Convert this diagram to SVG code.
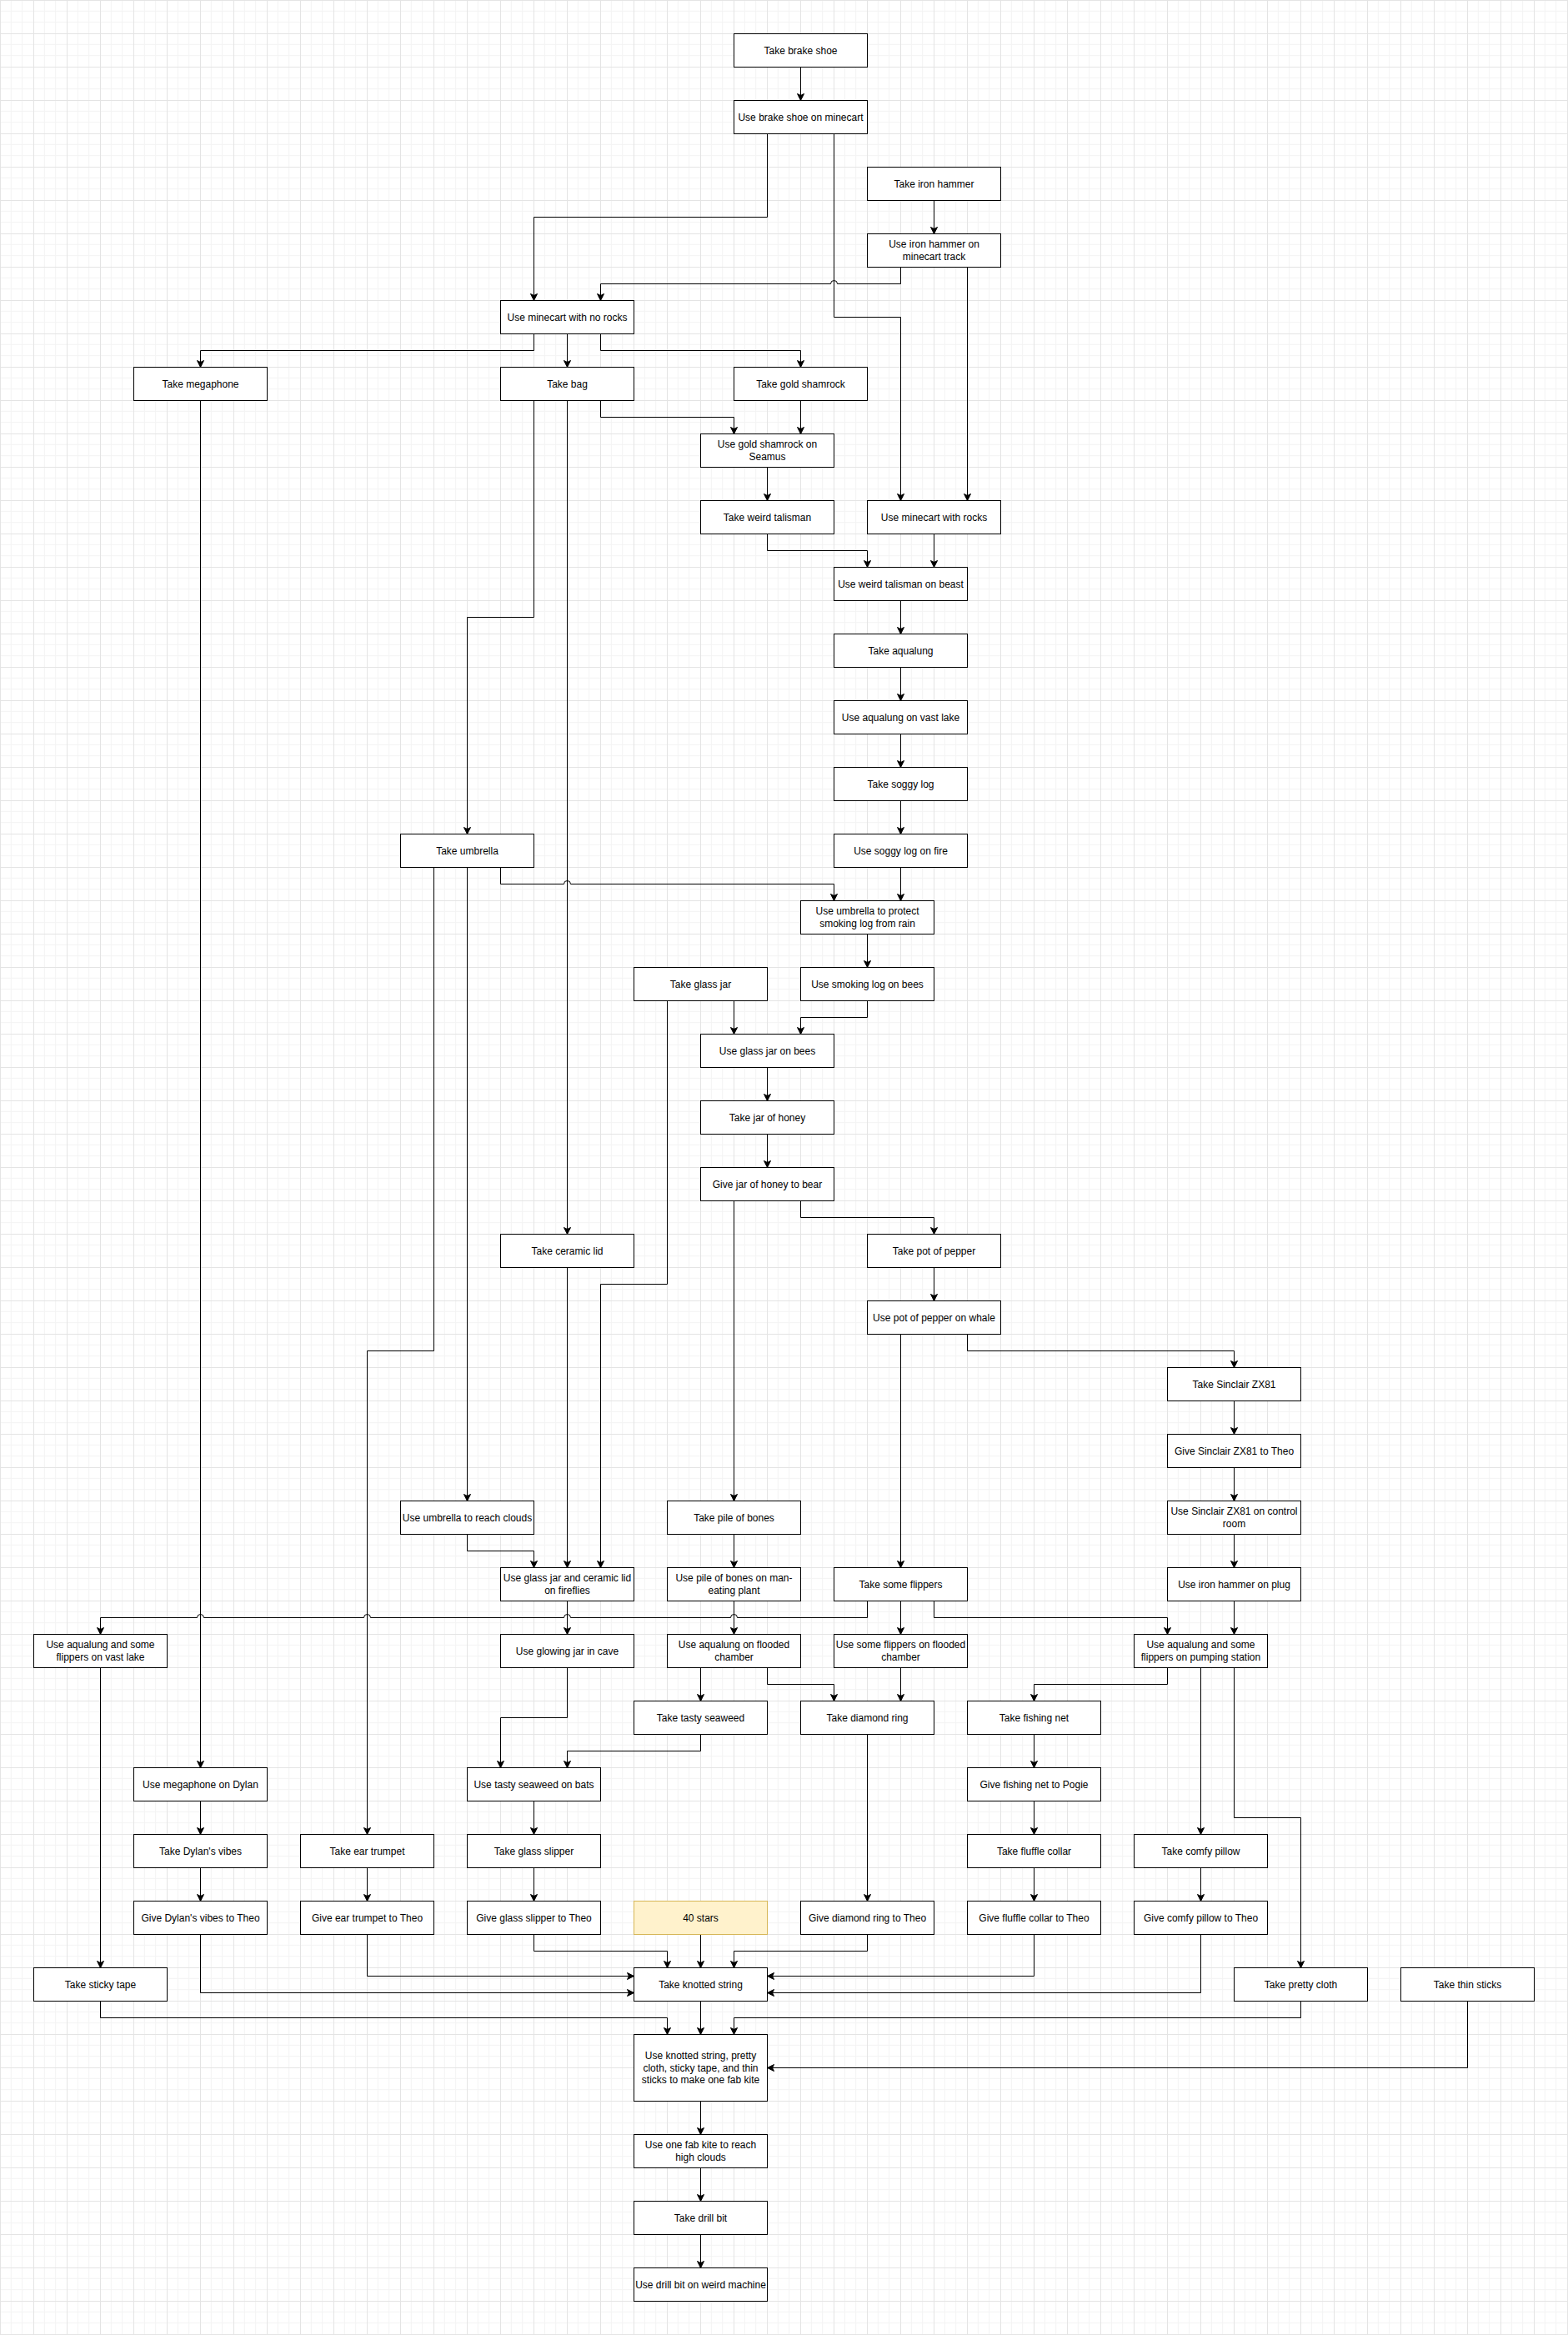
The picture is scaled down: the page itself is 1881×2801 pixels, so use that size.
<svg xmlns="http://www.w3.org/2000/svg" width="1881" height="2801" viewBox="0 0 1881 2801">
<defs>
<pattern id="grid" width="40" height="40" patternUnits="userSpaceOnUse">
<path d="M13.33 0 V40 M26.67 0 V40 M0 13.33 H40 M0 26.67 H40" fill="none" stroke="#f3f3f3" stroke-width="1"/>
<path d="M0.5 0 V40 M0 0.5 H40" fill="none" stroke="#e4e4e4" stroke-width="1"/>
</pattern>
<marker id="arr" markerUnits="userSpaceOnUse" markerWidth="12" markerHeight="12" viewBox="-10 -6 12 12" refX="0" refY="0" orient="auto">
<path d="M0,0 L-8,-4 L-6,0 L-8,4 Z" fill="#000" stroke="#000" stroke-width="1"/>
</marker>
<style>
.node rect{fill:#fff;stroke:#000;stroke-width:1}
.node text{font-family:"Liberation Sans",Arial,Helvetica,sans-serif;font-size:12px;fill:#000;text-anchor:middle}
.node.star rect{fill:#fff2cc;stroke:#d6b656}
#edges path{fill:none;stroke:#000;stroke-width:1;marker-end:url(#arr)}
</style>
</defs>
<rect x="0" y="0" width="1881" height="2801" fill="#fff"/>
<rect x="0" y="0" width="1881" height="2801" fill="url(#grid)"/>
<g transform="translate(0.5,0.5)">
<g id="edges">
<path d="M960,80 V120"/>
<path d="M920,160 V260 H640 V360"/>
<path d="M1000,160 V380 H1080 V600"/>
<path d="M1120,240 V280"/>
<path d="M1080,320 V340 H1004 A4,4 0 0 0 996,340 H720 V360"/>
<path d="M1160,320 V600"/>
<path d="M640,400 V420 H240 V440"/>
<path d="M680,400 V440"/>
<path d="M720,400 V420 H960 V440"/>
<path d="M960,480 V520"/>
<path d="M720,480 V500 H880 V520"/>
<path d="M920,560 V600"/>
<path d="M920,640 V660 H1040 V680"/>
<path d="M1120,640 V680"/>
<path d="M1080,720 V760"/>
<path d="M1080,800 V840"/>
<path d="M1080,880 V920"/>
<path d="M1080,960 V1000"/>
<path d="M640,480 V740 H560 V1000"/>
<path d="M680,480 V1480"/>
<path d="M240,480 V2120"/>
<path d="M1080,1040 V1080"/>
<path d="M600,1040 V1060 H676 A4,4 0 0 1 684,1060 H1000 V1080"/>
<path d="M1040,1120 V1160"/>
<path d="M1040,1200 V1220 H960 V1240"/>
<path d="M880,1200 V1240"/>
<path d="M800,1200 V1540 H720 V1880"/>
<path d="M920,1280 V1320"/>
<path d="M920,1360 V1400"/>
<path d="M960,1440 V1460 H1120 V1480"/>
<path d="M880,1440 V1800"/>
<path d="M1120,1520 V1560"/>
<path d="M1160,1600 V1620 H1480 V1640"/>
<path d="M1080,1600 V1880"/>
<path d="M1480,1680 V1720"/>
<path d="M1480,1760 V1800"/>
<path d="M1480,1840 V1880"/>
<path d="M1480,1920 V1960"/>
<path d="M560,1040 V1800"/>
<path d="M520,1040 V1620 H440 V2200"/>
<path d="M560,1840 V1860 H640 V1880"/>
<path d="M680,1520 V1880"/>
<path d="M680,1920 V1960"/>
<path d="M880,1840 V1880"/>
<path d="M880,1920 V1960"/>
<path d="M1040,1920 V1940 H884 A4,4 0 0 0 876,1940 H684 A4,4 0 0 0 676,1940 H444 A4,4 0 0 0 436,1940 H244 A4,4 0 0 0 236,1940 H120 V1960"/>
<path d="M1080,1920 V1960"/>
<path d="M1120,1920 V1940 H1400 V1960"/>
<path d="M840,2000 V2040"/>
<path d="M920,2000 V2020 H1000 V2040"/>
<path d="M1080,2000 V2040"/>
<path d="M1400,2000 V2020 H1240 V2040"/>
<path d="M1440,2000 V2200"/>
<path d="M1480,2000 V2180 H1560 V2360"/>
<path d="M840,2080 V2100 H680 V2120"/>
<path d="M680,2000 V2060 H600 V2120"/>
<path d="M640,2160 V2200"/>
<path d="M640,2240 V2280"/>
<path d="M240,2160 V2200"/>
<path d="M240,2240 V2280"/>
<path d="M440,2240 V2280"/>
<path d="M1240,2080 V2120"/>
<path d="M1240,2160 V2200"/>
<path d="M1240,2240 V2280"/>
<path d="M1440,2240 V2280"/>
<path d="M1040,2080 V2280"/>
<path d="M240,2320 V2390 H760"/>
<path d="M440,2320 V2370 H760"/>
<path d="M640,2320 V2340 H800 V2360"/>
<path d="M840,2320 V2360"/>
<path d="M1040,2320 V2340 H880 V2360"/>
<path d="M1240,2320 V2370 H920"/>
<path d="M1440,2320 V2390 H920"/>
<path d="M120,2000 V2360"/>
<path d="M120,2400 V2420 H800 V2440"/>
<path d="M840,2400 V2440"/>
<path d="M1560,2400 V2420 H880 V2440"/>
<path d="M1760,2400 V2480 H920"/>
<path d="M840,2520 V2560"/>
<path d="M840,2600 V2640"/>
<path d="M840,2680 V2720"/>
</g>
<g id="n1" class="node"><rect x="880" y="40" width="160" height="40"/><text x="960" y="64">Take brake shoe</text></g>
<g id="n2" class="node"><rect x="880" y="120" width="160" height="40"/><text x="960" y="144">Use brake shoe on minecart</text></g>
<g id="n3" class="node"><rect x="1040" y="200" width="160" height="40"/><text x="1120" y="224">Take iron hammer</text></g>
<g id="n4" class="node"><rect x="1040" y="280" width="160" height="40"/><text x="1120" y="296.8">Use iron hammer on</text><text x="1120" y="311.2">minecart track</text></g>
<g id="n5" class="node"><rect x="600" y="360" width="160" height="40"/><text x="680" y="384">Use minecart with no rocks</text></g>
<g id="n6" class="node"><rect x="160" y="440" width="160" height="40"/><text x="240" y="464">Take megaphone</text></g>
<g id="n7" class="node"><rect x="600" y="440" width="160" height="40"/><text x="680" y="464">Take bag</text></g>
<g id="n8" class="node"><rect x="880" y="440" width="160" height="40"/><text x="960" y="464">Take gold shamrock</text></g>
<g id="n9" class="node"><rect x="840" y="520" width="160" height="40"/><text x="920" y="536.8">Use gold shamrock on</text><text x="920" y="551.2">Seamus</text></g>
<g id="n10" class="node"><rect x="840" y="600" width="160" height="40"/><text x="920" y="624">Take weird talisman</text></g>
<g id="n11" class="node"><rect x="1040" y="600" width="160" height="40"/><text x="1120" y="624">Use minecart with rocks</text></g>
<g id="n12" class="node"><rect x="1000" y="680" width="160" height="40"/><text x="1080" y="704">Use weird talisman on beast</text></g>
<g id="n13" class="node"><rect x="1000" y="760" width="160" height="40"/><text x="1080" y="784">Take aqualung</text></g>
<g id="n14" class="node"><rect x="1000" y="840" width="160" height="40"/><text x="1080" y="864">Use aqualung on vast lake</text></g>
<g id="n15" class="node"><rect x="1000" y="920" width="160" height="40"/><text x="1080" y="944">Take soggy log</text></g>
<g id="n16" class="node"><rect x="480" y="1000" width="160" height="40"/><text x="560" y="1024">Take umbrella</text></g>
<g id="n17" class="node"><rect x="1000" y="1000" width="160" height="40"/><text x="1080" y="1024">Use soggy log on fire</text></g>
<g id="n18" class="node"><rect x="960" y="1080" width="160" height="40"/><text x="1040" y="1096.8">Use umbrella to protect</text><text x="1040" y="1111.2">smoking log from rain</text></g>
<g id="n19" class="node"><rect x="760" y="1160" width="160" height="40"/><text x="840" y="1184">Take glass jar</text></g>
<g id="n20" class="node"><rect x="960" y="1160" width="160" height="40"/><text x="1040" y="1184">Use smoking log on bees</text></g>
<g id="n21" class="node"><rect x="840" y="1240" width="160" height="40"/><text x="920" y="1264">Use glass jar on bees</text></g>
<g id="n22" class="node"><rect x="840" y="1320" width="160" height="40"/><text x="920" y="1344">Take jar of honey</text></g>
<g id="n23" class="node"><rect x="840" y="1400" width="160" height="40"/><text x="920" y="1424">Give jar of honey to bear</text></g>
<g id="n24" class="node"><rect x="600" y="1480" width="160" height="40"/><text x="680" y="1504">Take ceramic lid</text></g>
<g id="n25" class="node"><rect x="1040" y="1480" width="160" height="40"/><text x="1120" y="1504">Take pot of pepper</text></g>
<g id="n26" class="node"><rect x="1040" y="1560" width="160" height="40"/><text x="1120" y="1584">Use pot of pepper on whale</text></g>
<g id="n27" class="node"><rect x="1400" y="1640" width="160" height="40"/><text x="1480" y="1664">Take Sinclair ZX81</text></g>
<g id="n28" class="node"><rect x="1400" y="1720" width="160" height="40"/><text x="1480" y="1744">Give Sinclair ZX81 to Theo</text></g>
<g id="n29" class="node"><rect x="480" y="1800" width="160" height="40"/><text x="560" y="1824">Use umbrella to reach clouds</text></g>
<g id="n30" class="node"><rect x="800" y="1800" width="160" height="40"/><text x="880" y="1824">Take pile of bones</text></g>
<g id="n31" class="node"><rect x="1400" y="1800" width="160" height="40"/><text x="1480" y="1816.8">Use Sinclair ZX81 on control</text><text x="1480" y="1831.2">room</text></g>
<g id="n32" class="node"><rect x="600" y="1880" width="160" height="40"/><text x="680" y="1896.8">Use glass jar and ceramic lid</text><text x="680" y="1911.2">on fireflies</text></g>
<g id="n33" class="node"><rect x="800" y="1880" width="160" height="40"/><text x="880" y="1896.8">Use pile of bones on man-</text><text x="880" y="1911.2">eating plant</text></g>
<g id="n34" class="node"><rect x="1000" y="1880" width="160" height="40"/><text x="1080" y="1904">Take some flippers</text></g>
<g id="n35" class="node"><rect x="1400" y="1880" width="160" height="40"/><text x="1480" y="1904">Use iron hammer on plug</text></g>
<g id="n36" class="node"><rect x="40" y="1960" width="160" height="40"/><text x="120" y="1976.8">Use aqualung and some</text><text x="120" y="1991.2">flippers on vast lake</text></g>
<g id="n37" class="node"><rect x="600" y="1960" width="160" height="40"/><text x="680" y="1984">Use glowing jar in cave</text></g>
<g id="n38" class="node"><rect x="800" y="1960" width="160" height="40"/><text x="880" y="1976.8">Use aqualung on flooded</text><text x="880" y="1991.2">chamber</text></g>
<g id="n39" class="node"><rect x="1000" y="1960" width="160" height="40"/><text x="1080" y="1976.8">Use some flippers on flooded</text><text x="1080" y="1991.2">chamber</text></g>
<g id="n40" class="node"><rect x="1360" y="1960" width="160" height="40"/><text x="1440" y="1976.8">Use aqualung and some</text><text x="1440" y="1991.2">flippers on pumping station</text></g>
<g id="n41" class="node"><rect x="760" y="2040" width="160" height="40"/><text x="840" y="2064">Take tasty seaweed</text></g>
<g id="n42" class="node"><rect x="960" y="2040" width="160" height="40"/><text x="1040" y="2064">Take diamond ring</text></g>
<g id="n43" class="node"><rect x="1160" y="2040" width="160" height="40"/><text x="1240" y="2064">Take fishing net</text></g>
<g id="n44" class="node"><rect x="160" y="2120" width="160" height="40"/><text x="240" y="2144">Use megaphone on Dylan</text></g>
<g id="n45" class="node"><rect x="560" y="2120" width="160" height="40"/><text x="640" y="2144">Use tasty seaweed on bats</text></g>
<g id="n46" class="node"><rect x="1160" y="2120" width="160" height="40"/><text x="1240" y="2144">Give fishing net to Pogie</text></g>
<g id="n47" class="node"><rect x="160" y="2200" width="160" height="40"/><text x="240" y="2224">Take Dylan's vibes</text></g>
<g id="n48" class="node"><rect x="360" y="2200" width="160" height="40"/><text x="440" y="2224">Take ear trumpet</text></g>
<g id="n49" class="node"><rect x="560" y="2200" width="160" height="40"/><text x="640" y="2224">Take glass slipper</text></g>
<g id="n50" class="node"><rect x="1160" y="2200" width="160" height="40"/><text x="1240" y="2224">Take fluffle collar</text></g>
<g id="n51" class="node"><rect x="1360" y="2200" width="160" height="40"/><text x="1440" y="2224">Take comfy pillow</text></g>
<g id="n52" class="node"><rect x="160" y="2280" width="160" height="40"/><text x="240" y="2304">Give Dylan's vibes to Theo</text></g>
<g id="n53" class="node"><rect x="360" y="2280" width="160" height="40"/><text x="440" y="2304">Give ear trumpet to Theo</text></g>
<g id="n54" class="node"><rect x="560" y="2280" width="160" height="40"/><text x="640" y="2304">Give glass slipper to Theo</text></g>
<g id="n55" class="node star"><rect x="760" y="2280" width="160" height="40"/><text x="840" y="2304">40 stars</text></g>
<g id="n56" class="node"><rect x="960" y="2280" width="160" height="40"/><text x="1040" y="2304">Give diamond ring to Theo</text></g>
<g id="n57" class="node"><rect x="1160" y="2280" width="160" height="40"/><text x="1240" y="2304">Give fluffle collar to Theo</text></g>
<g id="n58" class="node"><rect x="1360" y="2280" width="160" height="40"/><text x="1440" y="2304">Give comfy pillow to Theo</text></g>
<g id="n59" class="node"><rect x="40" y="2360" width="160" height="40"/><text x="120" y="2384">Take sticky tape</text></g>
<g id="n60" class="node"><rect x="760" y="2360" width="160" height="40"/><text x="840" y="2384">Take knotted string</text></g>
<g id="n61" class="node"><rect x="1480" y="2360" width="160" height="40"/><text x="1560" y="2384">Take pretty cloth</text></g>
<g id="n62" class="node"><rect x="1680" y="2360" width="160" height="40"/><text x="1760" y="2384">Take thin sticks</text></g>
<g id="n63" class="node"><rect x="760" y="2440" width="160" height="80"/><text x="840" y="2469.6">Use knotted string, pretty</text><text x="840" y="2484">cloth, sticky tape, and thin</text><text x="840" y="2498.4">sticks to make one fab kite</text></g>
<g id="n64" class="node"><rect x="760" y="2560" width="160" height="40"/><text x="840" y="2576.8">Use one fab kite to reach</text><text x="840" y="2591.2">high clouds</text></g>
<g id="n65" class="node"><rect x="760" y="2640" width="160" height="40"/><text x="840" y="2664">Take drill bit</text></g>
<g id="n66" class="node"><rect x="760" y="2720" width="160" height="40"/><text x="840" y="2744">Use drill bit on weird machine</text></g>
</g>
</svg>
